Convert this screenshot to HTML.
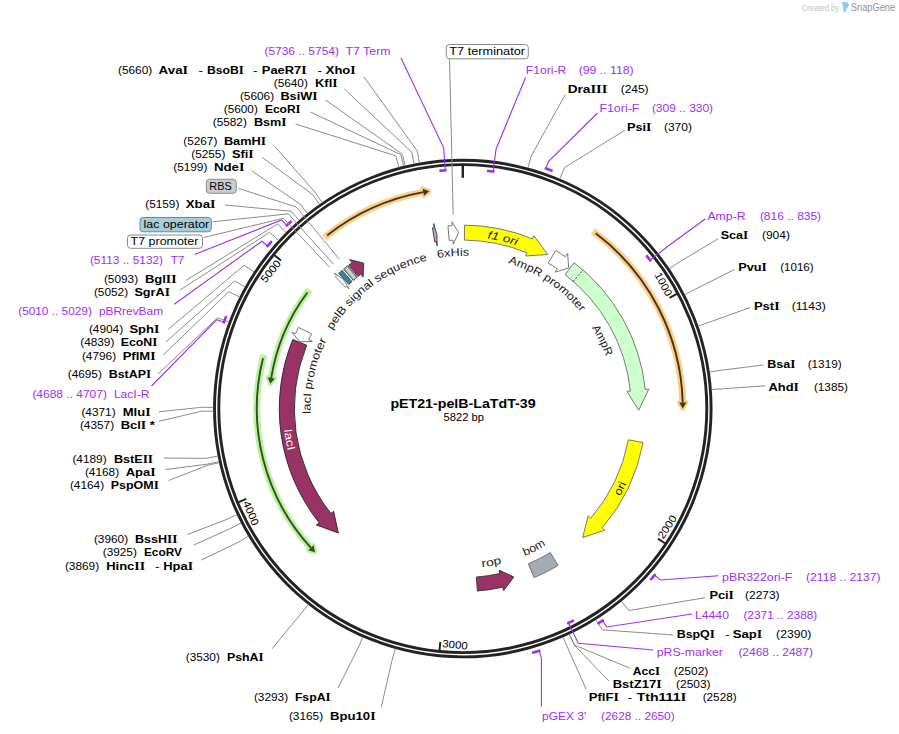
<!DOCTYPE html>
<html><head><meta charset="utf-8"><title>pET21-pelB-LaTdT-39</title>
<style>
html,body{margin:0;padding:0;background:#fff;}
body{width:899px;height:734px;overflow:hidden;}
svg{display:block;font-family:"Liberation Sans", sans-serif;}
</style></head><body>
<svg width="899" height="734" viewBox="0 0 899 734">
<circle cx="462.8" cy="408.6" r="248.3" fill="none" stroke="#232323" stroke-width="2.9"/>
<circle cx="462.8" cy="408.6" r="244.0" fill="none" stroke="#232323" stroke-width="2.9"/>
<line x1="462.8" y1="165.8" x2="462.8" y2="177.8" stroke="#232323" stroke-width="2.4"/>
<line x1="676.85" y1="293.99" x2="669.53" y2="297.91" stroke="#232323" stroke-width="2.0"/>
<g transform="translate(462.8,408.6) rotate(61.83)"><text x="-2.2" y="-232.0" font-size="10.6" text-anchor="end" textLength="25.5" lengthAdjust="spacingAndGlyphs">1000</text></g>
<line x1="664.87" y1="543.21" x2="657.96" y2="538.6" stroke="#232323" stroke-width="2.0"/>
<g transform="translate(462.8,408.6) rotate(303.67)"><text x="2.2" y="239.4" font-size="10.6" textLength="25.5" lengthAdjust="spacingAndGlyphs">2000</text></g>
<line x1="439.51" y1="650.28" x2="440.31" y2="642.02" stroke="#232323" stroke-width="2.0"/>
<g transform="translate(462.8,408.6) rotate(365.5)"><text x="2.2" y="239.4" font-size="10.6" textLength="25.5" lengthAdjust="spacingAndGlyphs">3000</text></g>
<line x1="238.75" y1="502.15" x2="246.41" y2="498.95" stroke="#232323" stroke-width="2.0"/>
<g transform="translate(462.8,408.6) rotate(427.34)"><text x="2.2" y="239.4" font-size="10.6" textLength="25.5" lengthAdjust="spacingAndGlyphs">4000</text></g>
<line x1="274.57" y1="255.23" x2="281" y2="260.48" stroke="#232323" stroke-width="2.0"/>
<g transform="translate(462.8,408.6) rotate(309.17)"><text x="-2.2" y="-232.0" font-size="10.6" text-anchor="end" textLength="25.5" lengthAdjust="spacingAndGlyphs">5000</text></g>
<path d="M327.08,235.45 A220,220 0 0 1 423.3,192.17" fill="none" stroke="#fdcf86" stroke-width="7" stroke-linecap="square"/>
<path d="M429.22,191.18 L422.65,188.63 L423.95,195.72 Z" fill="#fdcf86" stroke="#fdcf86" stroke-width="4.5" stroke-linejoin="round"/>
<path d="M327.08,235.45 A220,220 0 0 1 423.3,192.17" fill="none" stroke="#3f3522" stroke-width="1.9"/>
<path d="M429.22,191.18 L422.65,188.63 L423.95,195.72 Z" fill="#3f3522"/>
<path d="M595.7,233.28 A220,220 0 0 1 682.71,402.48" fill="none" stroke="#fdcf86" stroke-width="7" stroke-linecap="square"/>
<path d="M682.8,408.48 L686.31,402.38 L679.12,402.58 Z" fill="#fdcf86" stroke="#fdcf86" stroke-width="4.5" stroke-linejoin="round"/>
<path d="M595.7,233.28 A220,220 0 0 1 682.71,402.48" fill="none" stroke="#3f3522" stroke-width="1.9"/>
<path d="M682.8,408.48 L686.31,402.38 L679.12,402.58 Z" fill="#3f3522"/>
<path d="M307.38,292.5 A194,194 0 0 0 271.24,377.92" fill="none" stroke="#b8f49a" stroke-width="7" stroke-linecap="square"/>
<path d="M270.38,383.86 L267.69,377.35 L274.8,378.49 Z" fill="#b8f49a" stroke="#b8f49a" stroke-width="4.5" stroke-linejoin="round"/>
<path d="M307.38,292.5 A194,194 0 0 0 271.24,377.92" fill="none" stroke="#3a4a30" stroke-width="1.9"/>
<path d="M270.38,383.86 L267.69,377.35 L274.8,378.49 Z" fill="#3a4a30"/>
<path d="M263.03,358.31 A206,206 0 0 0 310.95,547.8" fill="none" stroke="#b8f49a" stroke-width="7" stroke-linecap="square"/>
<path d="M315.07,552.17 L308.3,550.24 L313.6,545.37 Z" fill="#b8f49a" stroke="#b8f49a" stroke-width="4.5" stroke-linejoin="round"/>
<path d="M263.03,358.31 A206,206 0 0 0 310.95,547.8" fill="none" stroke="#3a4a30" stroke-width="1.9"/>
<path d="M315.07,552.17 L308.3,550.24 L313.6,545.37 Z" fill="#3a4a30"/>
<path d="M464.58,225.11 A183.5,183.5 0 0 1 532.63,238.9 L533.96,235.67 L547.79,254.48 L525.59,256.01 L526.92,252.78 A168.5,168.5 0 0 0 464.44,240.11 Z" fill="#ffff00" stroke="#6b6b6b" stroke-width="0.9" stroke-linejoin="miter"/>
<path d="M555.62,250.54 A183.3,183.3 0 0 1 565.42,256.72 L567.66,253.41 L568.66,268 L555.01,272.13 L557.25,268.82 A168.7,168.7 0 0 0 548.23,263.13 Z" fill="#ffffff" stroke="#6b6b6b" stroke-width="0.9" stroke-linejoin="miter"/>
<path d="M574.12,262.72 A183.5,183.5 0 0 1 645.3,389.47 L648.78,389.1 L638.79,410.21 L626.9,391.39 L630.38,391.03 A168.5,168.5 0 0 0 565.02,274.65 Z" fill="#ccffcc" stroke="#6b6b6b" stroke-width="0.9" stroke-linejoin="miter"/>
<path d="M643.13,442.56 A183.5,183.5 0 0 1 602.18,527.96 L604.83,530.24 L582.64,537.5 L588.12,515.93 L590.78,518.2 A168.5,168.5 0 0 0 628.39,439.79 Z" fill="#ffff00" stroke="#6b6b6b" stroke-width="0.9" stroke-linejoin="miter"/>
<path d="M558.1,565.41 A183.5,183.5 0 0 1 534.14,577.66 L528.31,563.84 A168.5,168.5 0 0 0 550.31,552.59 Z" fill="#a5abb3" stroke="#6b6b6b" stroke-width="0.9" stroke-linejoin="miter"/>
<path d="M513.91,577.02 L503.64,590.57 L502.87,587.16 A183,183 0 0 1 477.4,591.02 L476.28,577.06 A169,169 0 0 0 499.81,573.5 L499.04,570.08 Z" fill="#993366" stroke="#333" stroke-width="0.9" stroke-linejoin="miter"/>
<path d="M338.32,533.02 L316.4,524.94 L319.14,522.77 A183.5,183.5 0 0 1 292.79,339.55 L306.69,345.19 A168.5,168.5 0 0 0 330.88,513.43 L333.62,511.26 Z" fill="#993366" stroke="#222" stroke-width="0.9" stroke-linejoin="miter"/>
<path d="M299.95,341.84 L291.8,332.17 L295.45,333.81 A183.3,183.3 0 0 1 298.49,327.35 L311.58,333.83 A168.7,168.7 0 0 0 308.78,339.76 L312.43,341.4 Z" fill="#ffffff" stroke="#6b6b6b" stroke-width="0.9" stroke-linejoin="miter"/>
<path d="M335.41,276.8 A183.3,183.3 0 0 1 336.53,275.73 L333.98,273.05 L343.38,279.31 L349.13,289 L346.59,286.31 A168.7,168.7 0 0 0 345.56,287.3 Z" fill="#ffffff" stroke="#6b6b6b" stroke-width="0.9" stroke-linejoin="miter"/>
<path d="M338.73,273.4 A183.5,183.5 0 0 1 342.12,270.36 L351.99,281.66 A168.5,168.5 0 0 0 348.87,284.45 Z" fill="#33869b" stroke="#444" stroke-width="0.9" stroke-linejoin="miter"/>
<path d="M343.62,269.07 A183.5,183.5 0 0 1 347.74,265.66 L357.14,277.34 A168.5,168.5 0 0 0 353.36,280.47 Z" fill="#a5abb3" stroke="#444" stroke-width="0.9" stroke-linejoin="miter"/>
<path d="M348.79,265.07 A183.3,183.3 0 0 1 352.01,262.57 L349.78,259.62 L363.73,263.13 L363.07,277.15 L360.84,274.2 A168.7,168.7 0 0 0 357.87,276.5 Z" fill="#993366" stroke="#333" stroke-width="0.9" stroke-linejoin="miter"/>
<path d="M432.48,227.83 A183.3,183.3 0 0 1 434.25,227.54 L433.63,223.59 L436.87,234.52 L437.15,245.91 L436.53,241.96 A168.7,168.7 0 0 0 434.89,242.22 Z" fill="#d99cc4" stroke="#333" stroke-width="0.9" stroke-linejoin="miter"/>
<path d="M447.98,225.9 A183.3,183.3 0 0 1 452.21,225.61 L451.97,221.61 L458.62,232.65 L453.28,244.18 L453.05,240.18 A168.7,168.7 0 0 0 449.16,240.45 Z" fill="#ffffff" stroke="#6b6b6b" stroke-width="0.9" stroke-linejoin="miter"/>
<line x1="354.11" y1="278.53" x2="345.78" y2="268.56" stroke="#f4f4f4" stroke-width="0.8"/>
<line x1="355.1" y1="277.72" x2="346.84" y2="267.68" stroke="#f4f4f4" stroke-width="0.8"/>
<line x1="573.2" y1="281.3" x2="583.03" y2="269.97" stroke="#333" stroke-width="0.9" stroke-dasharray="2,1.6"/>
<polyline points="363.6,76.4 417.31,151.09 419.4,162.9" fill="none" stroke="#8c8c8c" stroke-width="1.0"/>
<polyline points="344.4,89 411.77,152.13 414.11,163.9" fill="none" stroke="#8c8c8c" stroke-width="1.0"/>
<polyline points="325.6,100 402.39,154.17 405.16,165.85" fill="none" stroke="#8c8c8c" stroke-width="1.0"/>
<polyline points="310.4,112 400.75,154.57 403.59,166.23" fill="none" stroke="#8c8c8c" stroke-width="1.0"/>
<polyline points="295.6,124 395.82,155.82 398.9,167.42" fill="none" stroke="#8c8c8c" stroke-width="1.0"/>
<polyline points="275,146.7 315.37,192.62 322.14,202.53" fill="none" stroke="#8c8c8c" stroke-width="1.0"/>
<polyline points="262.5,157.5 312.59,194.55 319.48,204.37" fill="none" stroke="#8c8c8c" stroke-width="1.0"/>
<polyline points="251.7,170.8 299.93,204.01 307.4,213.4" fill="none" stroke="#8c8c8c" stroke-width="1.0"/>
<polyline points="225,205 291.25,211.23 299.13,220.29" fill="none" stroke="#8c8c8c" stroke-width="1.0"/>
<polyline points="185.8,280.5 277.64,223.94 286.14,232.42" fill="none" stroke="#8c8c8c" stroke-width="1.0"/>
<polyline points="180,290 269.66,232.31 278.52,240.4" fill="none" stroke="#8c8c8c" stroke-width="1.0"/>
<polyline points="168.3,329.3 244.08,265.27 254.11,271.85" fill="none" stroke="#8c8c8c" stroke-width="1.0"/>
<polyline points="165.8,342 234.57,280.96 245.04,286.82" fill="none" stroke="#8c8c8c" stroke-width="1.0"/>
<polyline points="163.3,355 228.89,291.68 239.63,297.05" fill="none" stroke="#8c8c8c" stroke-width="1.0"/>
<polyline points="158,374 217.56,317.82 228.82,321.99" fill="none" stroke="#8c8c8c" stroke-width="1.0"/>
<polyline points="158.8,411.8 201.3,407.33 213.3,407.39" fill="none" stroke="#8c8c8c" stroke-width="1.0"/>
<polyline points="158.8,421.3 201.31,411.28 213.31,411.16" fill="none" stroke="#8c8c8c" stroke-width="1.0"/>
<polyline points="163.8,458 206.08,458.39 217.86,456.1" fill="none" stroke="#8c8c8c" stroke-width="1.0"/>
<polyline points="165.5,469.5 207.28,464.19 219,461.64" fill="none" stroke="#8c8c8c" stroke-width="1.0"/>
<polyline points="168.8,480.5 207.52,465.29 219.23,462.69" fill="none" stroke="#8c8c8c" stroke-width="1.0"/>
<polyline points="187.5,534.5 226.06,519.68 236.93,514.58" fill="none" stroke="#8c8c8c" stroke-width="1.0"/>
<polyline points="193.8,545 230.43,528.54 241.09,523.03" fill="none" stroke="#8c8c8c" stroke-width="1.0"/>
<polyline points="201.3,560 238.09,542.35 248.41,536.21" fill="none" stroke="#8c8c8c" stroke-width="1.0"/>
<polyline points="272,648.8 300.82,613.89 308.25,604.47" fill="none" stroke="#8c8c8c" stroke-width="1.0"/>
<polyline points="338,688 358.02,648.19 362.83,637.2" fill="none" stroke="#8c8c8c" stroke-width="1.0"/>
<polyline points="381.3,707 392.01,660.34 395.26,648.78" fill="none" stroke="#8c8c8c" stroke-width="1.0"/>
<polyline points="565,95 531.14,156.19 528,167.77" fill="none" stroke="#8c8c8c" stroke-width="1.0"/>
<polyline points="624.5,130.5 564.47,167.67 559.8,178.73" fill="none" stroke="#8c8c8c" stroke-width="1.0"/>
<polyline points="718,238.8 679.33,261.99 669.4,268.71" fill="none" stroke="#8c8c8c" stroke-width="1.0"/>
<polyline points="734.5,269.5 695.43,289.17 684.76,294.65" fill="none" stroke="#8c8c8c" stroke-width="1.0"/>
<polyline points="750.3,307.5 709.57,322.07 698.24,326.04" fill="none" stroke="#8c8c8c" stroke-width="1.0"/>
<polyline points="763.3,365 721.47,370.22 709.6,371.98" fill="none" stroke="#8c8c8c" stroke-width="1.0"/>
<polyline points="765.3,385.8 723.54,388.72 711.58,389.64" fill="none" stroke="#8c8c8c" stroke-width="1.0"/>
<polyline points="705,597.7 628.96,610.52 621.33,601.26" fill="none" stroke="#8c8c8c" stroke-width="1.0"/>
<polyline points="673,635 602.21,629.84 595.81,619.69" fill="none" stroke="#8c8c8c" stroke-width="1.0"/>
<polyline points="630,668.3 574.51,645.04 569.39,634.19" fill="none" stroke="#8c8c8c" stroke-width="1.0"/>
<polyline points="609,681 574.26,645.16 569.14,634.3" fill="none" stroke="#8c8c8c" stroke-width="1.0"/>
<polyline points="586,689 567.84,648.08 563.02,637.09" fill="none" stroke="#8c8c8c" stroke-width="1.0"/>
<polyline points="401,58 443.63,147.8 445.28,170.24" fill="none" stroke="#9b30f0" stroke-width="1.1"/>
<path d="M440.65,170.63 A239,239 0 0 1 445.28,170.24" fill="none" stroke="#9b30f0" stroke-width="2.6" stroke-linecap="square"/>
<polyline points="194.5,254.5 281.67,219.99 286.87,225.4" fill="none" stroke="#9b30f0" stroke-width="1.1"/>
<path d="M286.87,225.4 A254,254 0 0 1 290.66,221.83" fill="none" stroke="#9b30f0" stroke-width="2.6" stroke-linecap="square"/>
<polyline points="174.2,304.2 261.87,241.24 267.63,246.04" fill="none" stroke="#9b30f0" stroke-width="1.1"/>
<path d="M267.63,246.04 A254,254 0 0 1 271,242.08" fill="none" stroke="#9b30f0" stroke-width="2.6" stroke-linecap="square"/>
<polyline points="151.5,386 216.88,319.68 223.94,322.23" fill="none" stroke="#9b30f0" stroke-width="1.1"/>
<path d="M223.94,322.23 A254,254 0 0 1 225.76,317.35" fill="none" stroke="#9b30f0" stroke-width="2.6" stroke-linecap="square"/>
<polyline points="525.5,77.5 496.01,149.22 493.15,171.54" fill="none" stroke="#9b30f0" stroke-width="1.1"/>
<path d="M488.29,170.96 A239,239 0 0 1 493.15,171.54" fill="none" stroke="#9b30f0" stroke-width="2.6" stroke-linecap="square"/>
<polyline points="597.5,113 548.4,161.51 545.94,168.59" fill="none" stroke="#9b30f0" stroke-width="1.1"/>
<path d="M545.94,168.59 A254,254 0 0 1 551.36,170.54" fill="none" stroke="#9b30f0" stroke-width="2.6" stroke-linecap="square"/>
<polyline points="705.5,218.8 667.83,246.28 650.18,260.25" fill="none" stroke="#9b30f0" stroke-width="1.1"/>
<path d="M647.1,256.44 A239,239 0 0 1 650.18,260.25" fill="none" stroke="#9b30f0" stroke-width="2.6" stroke-linecap="square"/>
<polyline points="718.3,575.7 660.26,580.04 654.6,575.12" fill="none" stroke="#9b30f0" stroke-width="1.1"/>
<path d="M654.6,575.12 A254,254 0 0 1 651.14,579.02" fill="none" stroke="#9b30f0" stroke-width="2.6" stroke-linecap="square"/>
<polyline points="692,614 606.71,626.94 602.59,620.67" fill="none" stroke="#9b30f0" stroke-width="1.1"/>
<path d="M602.59,620.67 A254,254 0 0 1 598.67,623.2" fill="none" stroke="#9b30f0" stroke-width="2.6" stroke-linecap="square"/>
<polyline points="653.3,650 578.33,643.2 568.39,623.01" fill="none" stroke="#9b30f0" stroke-width="1.1"/>
<path d="M572.76,620.8 A239,239 0 0 1 568.39,623.01" fill="none" stroke="#9b30f0" stroke-width="2.6" stroke-linecap="square"/>
<polyline points="541.4,706.7 541.4,658 539.18,650.85" fill="none" stroke="#9b30f0" stroke-width="1.1"/>
<path d="M539.18,650.85 A254,254 0 0 1 533.4,652.59" fill="none" stroke="#9b30f0" stroke-width="2.6" stroke-linecap="square"/>
<text x="118" y="74" font-size="11" textLength="34.2" lengthAdjust="spacingAndGlyphs">(5660)</text>
<text x="158.6" y="74" font-size="11" font-weight="bold" textLength="29.5" lengthAdjust="spacingAndGlyphs">Ava<tspan font-family="Liberation Serif" font-size="11.66">I</tspan></text>
<text x="198.5" y="74" font-size="11" textLength="4.5" lengthAdjust="spacingAndGlyphs">-</text>
<text x="206.9" y="74" font-size="11" font-weight="bold" textLength="37" lengthAdjust="spacingAndGlyphs">BsoB<tspan font-family="Liberation Serif" font-size="11.66">I</tspan></text>
<text x="253.1" y="74" font-size="11" textLength="4.4" lengthAdjust="spacingAndGlyphs">-</text>
<text x="261.8" y="74" font-size="11" font-weight="bold" textLength="44.8" lengthAdjust="spacingAndGlyphs">PaeR7<tspan font-family="Liberation Serif" font-size="11.66">I</tspan></text>
<text x="317.5" y="74" font-size="11" textLength="4.5" lengthAdjust="spacingAndGlyphs">-</text>
<text x="325.8" y="74" font-size="11" font-weight="bold" textLength="29.8" lengthAdjust="spacingAndGlyphs">Xho<tspan font-family="Liberation Serif" font-size="11.66">I</tspan></text>
<text x="273.7" y="87" font-size="11" textLength="34.2" lengthAdjust="spacingAndGlyphs">(5640)</text>
<text x="315" y="87" font-size="11" font-weight="bold" textLength="22.6" lengthAdjust="spacingAndGlyphs">Kfl<tspan font-family="Liberation Serif" font-size="11.66">I</tspan></text>
<text x="239.9" y="100" font-size="11" textLength="34.2" lengthAdjust="spacingAndGlyphs">(5606)</text>
<text x="280.4" y="100" font-size="11" font-weight="bold" textLength="37.2" lengthAdjust="spacingAndGlyphs">BsiW<tspan font-family="Liberation Serif" font-size="11.66">I</tspan></text>
<text x="223.7" y="113" font-size="11" textLength="34.2" lengthAdjust="spacingAndGlyphs">(5600)</text>
<text x="264.9" y="113" font-size="11" font-weight="bold" textLength="35.7" lengthAdjust="spacingAndGlyphs">EcoR<tspan font-family="Liberation Serif" font-size="11.66">I</tspan></text>
<text x="212.7" y="126" font-size="11" textLength="34.2" lengthAdjust="spacingAndGlyphs">(5582)</text>
<text x="253.9" y="126" font-size="11" font-weight="bold" textLength="32.7" lengthAdjust="spacingAndGlyphs">Bsm<tspan font-family="Liberation Serif" font-size="11.66">I</tspan></text>
<text x="183.2" y="144.5" font-size="11" textLength="34.2" lengthAdjust="spacingAndGlyphs">(5267)</text>
<text x="223.9" y="144.5" font-size="11" font-weight="bold" textLength="42.2" lengthAdjust="spacingAndGlyphs">BamH<tspan font-family="Liberation Serif" font-size="11.66">I</tspan></text>
<text x="191.2" y="157.5" font-size="11" textLength="34.2" lengthAdjust="spacingAndGlyphs">(5255)</text>
<text x="231.9" y="157.5" font-size="11" font-weight="bold" textLength="21.7" lengthAdjust="spacingAndGlyphs">Sfi<tspan font-family="Liberation Serif" font-size="11.66">I</tspan></text>
<text x="173.2" y="170.8" font-size="11" textLength="34.2" lengthAdjust="spacingAndGlyphs">(5199)</text>
<text x="213.9" y="170.8" font-size="11" font-weight="bold" textLength="30.5" lengthAdjust="spacingAndGlyphs">Nde<tspan font-family="Liberation Serif" font-size="11.66">I</tspan></text>
<text x="145.2" y="208.3" font-size="11" textLength="34.2" lengthAdjust="spacingAndGlyphs">(5159)</text>
<text x="185.7" y="208.3" font-size="11" font-weight="bold" textLength="29.9" lengthAdjust="spacingAndGlyphs">Xba<tspan font-family="Liberation Serif" font-size="11.66">I</tspan></text>
<text x="103.9" y="282.5" font-size="11" textLength="34.2" lengthAdjust="spacingAndGlyphs">(5093)</text>
<text x="144.9" y="282.5" font-size="11" font-weight="bold" textLength="31.7" lengthAdjust="spacingAndGlyphs">Bgl<tspan font-family="Liberation Serif" font-size="11.66">I</tspan><tspan font-family="Liberation Serif" font-size="11.66">I</tspan></text>
<text x="93.9" y="295.8" font-size="11" textLength="34.2" lengthAdjust="spacingAndGlyphs">(5052)</text>
<text x="134.4" y="295.8" font-size="11" font-weight="bold" textLength="35.5" lengthAdjust="spacingAndGlyphs">SgrA<tspan font-family="Liberation Serif" font-size="11.66">I</tspan></text>
<text x="88.9" y="333.3" font-size="11" textLength="34.2" lengthAdjust="spacingAndGlyphs">(4904)</text>
<text x="129.4" y="333.3" font-size="11" font-weight="bold" textLength="30" lengthAdjust="spacingAndGlyphs">Sph<tspan font-family="Liberation Serif" font-size="11.66">I</tspan></text>
<text x="80.2" y="346.3" font-size="11" textLength="34.2" lengthAdjust="spacingAndGlyphs">(4839)</text>
<text x="120.7" y="346.3" font-size="11" font-weight="bold" textLength="36.7" lengthAdjust="spacingAndGlyphs">EcoN<tspan font-family="Liberation Serif" font-size="11.66">I</tspan></text>
<text x="81.9" y="359.5" font-size="11" textLength="34.2" lengthAdjust="spacingAndGlyphs">(4796)</text>
<text x="122.7" y="359.5" font-size="11" font-weight="bold" textLength="32.9" lengthAdjust="spacingAndGlyphs">PflM<tspan font-family="Liberation Serif" font-size="11.66">I</tspan></text>
<text x="67.7" y="378.3" font-size="11" textLength="34.2" lengthAdjust="spacingAndGlyphs">(4695)</text>
<text x="108.7" y="378.3" font-size="11" font-weight="bold" textLength="42.4" lengthAdjust="spacingAndGlyphs">BstAP<tspan font-family="Liberation Serif" font-size="11.66">I</tspan></text>
<text x="81.4" y="415.8" font-size="11" textLength="34.2" lengthAdjust="spacingAndGlyphs">(4371)</text>
<text x="122.7" y="415.8" font-size="11" font-weight="bold" textLength="27.9" lengthAdjust="spacingAndGlyphs">Mlu<tspan font-family="Liberation Serif" font-size="11.66">I</tspan></text>
<text x="79.9" y="428.8" font-size="11" textLength="34.2" lengthAdjust="spacingAndGlyphs">(4357)</text>
<text x="120.7" y="428.8" font-size="11" font-weight="bold" textLength="34.2" lengthAdjust="spacingAndGlyphs">Bcl<tspan font-family="Liberation Serif" font-size="11.66">I</tspan> *</text>
<text x="72.4" y="462.5" font-size="11" textLength="34.2" lengthAdjust="spacingAndGlyphs">(4189)</text>
<text x="113.9" y="462.5" font-size="11" font-weight="bold" textLength="39.2" lengthAdjust="spacingAndGlyphs">BstE<tspan font-family="Liberation Serif" font-size="11.66">I</tspan><tspan font-family="Liberation Serif" font-size="11.66">I</tspan></text>
<text x="84.9" y="475.5" font-size="11" textLength="34.2" lengthAdjust="spacingAndGlyphs">(4168)</text>
<text x="125.7" y="475.5" font-size="11" font-weight="bold" textLength="29.9" lengthAdjust="spacingAndGlyphs">Apa<tspan font-family="Liberation Serif" font-size="11.66">I</tspan></text>
<text x="69.9" y="488.8" font-size="11" textLength="34.2" lengthAdjust="spacingAndGlyphs">(4164)</text>
<text x="110.7" y="488.8" font-size="11" font-weight="bold" textLength="48.2" lengthAdjust="spacingAndGlyphs">PspOM<tspan font-family="Liberation Serif" font-size="11.66">I</tspan></text>
<text x="93.9" y="542.5" font-size="11" textLength="34.2" lengthAdjust="spacingAndGlyphs">(3960)</text>
<text x="134.9" y="542.5" font-size="11" font-weight="bold" textLength="42.5" lengthAdjust="spacingAndGlyphs">BssH<tspan font-family="Liberation Serif" font-size="11.66">I</tspan><tspan font-family="Liberation Serif" font-size="11.66">I</tspan></text>
<text x="102.7" y="555.8" font-size="11" textLength="34.2" lengthAdjust="spacingAndGlyphs">(3925)</text>
<text x="143.9" y="555.8" font-size="11" font-weight="bold" textLength="38" lengthAdjust="spacingAndGlyphs">EcoRV</text>
<text x="64.9" y="570" font-size="11" textLength="34.2" lengthAdjust="spacingAndGlyphs">(3869)</text>
<text x="106.2" y="570" font-size="11" font-weight="bold" textLength="38.9" lengthAdjust="spacingAndGlyphs">Hinc<tspan font-family="Liberation Serif" font-size="11.66">I</tspan><tspan font-family="Liberation Serif" font-size="11.66">I</tspan></text>
<text x="155" y="570" font-size="11" textLength="4.5" lengthAdjust="spacingAndGlyphs">-</text>
<text x="163.2" y="570" font-size="11" font-weight="bold" textLength="29.9" lengthAdjust="spacingAndGlyphs">Hpa<tspan font-family="Liberation Serif" font-size="11.66">I</tspan></text>
<text x="185.7" y="660.8" font-size="11" textLength="34.2" lengthAdjust="spacingAndGlyphs">(3530)</text>
<text x="226.9" y="660.8" font-size="11" font-weight="bold" textLength="36.7" lengthAdjust="spacingAndGlyphs">PshA<tspan font-family="Liberation Serif" font-size="11.66">I</tspan></text>
<text x="253.9" y="701.3" font-size="11" textLength="34.2" lengthAdjust="spacingAndGlyphs">(3293)</text>
<text x="294.9" y="701.3" font-size="11" font-weight="bold" textLength="35.7" lengthAdjust="spacingAndGlyphs">FspA<tspan font-family="Liberation Serif" font-size="11.66">I</tspan></text>
<text x="288.9" y="720" font-size="11" textLength="34.2" lengthAdjust="spacingAndGlyphs">(3165)</text>
<text x="329.9" y="720" font-size="11" font-weight="bold" textLength="45.7" lengthAdjust="spacingAndGlyphs">Bpu10<tspan font-family="Liberation Serif" font-size="11.66">I</tspan></text>
<text x="567.7" y="93" font-size="11" font-weight="bold" textLength="39.7" lengthAdjust="spacingAndGlyphs">Dra<tspan font-family="Liberation Serif" font-size="11.66">I</tspan><tspan font-family="Liberation Serif" font-size="11.66">I</tspan><tspan font-family="Liberation Serif" font-size="11.66">I</tspan></text>
<text x="620.7" y="93" font-size="11" textLength="27.9" lengthAdjust="spacingAndGlyphs">(245)</text>
<text x="626.9" y="130.8" font-size="11" font-weight="bold" textLength="24.5" lengthAdjust="spacingAndGlyphs">Psi<tspan font-family="Liberation Serif" font-size="11.66">I</tspan></text>
<text x="663.9" y="130.8" font-size="11" textLength="28" lengthAdjust="spacingAndGlyphs">(370)</text>
<text x="720.7" y="239.3" font-size="11" font-weight="bold" textLength="27.4" lengthAdjust="spacingAndGlyphs">Sca<tspan font-family="Liberation Serif" font-size="11.66">I</tspan></text>
<text x="761.9" y="239.3" font-size="11" textLength="28" lengthAdjust="spacingAndGlyphs">(904)</text>
<text x="738.2" y="271.3" font-size="11" font-weight="bold" textLength="28.7" lengthAdjust="spacingAndGlyphs">Pvu<tspan font-family="Liberation Serif" font-size="11.66">I</tspan></text>
<text x="780.2" y="271.3" font-size="11" textLength="33.4" lengthAdjust="spacingAndGlyphs">(1016)</text>
<text x="753.9" y="310" font-size="11" font-weight="bold" textLength="25.7" lengthAdjust="spacingAndGlyphs">Pst<tspan font-family="Liberation Serif" font-size="11.66">I</tspan></text>
<text x="791.7" y="310" font-size="11" textLength="34.2" lengthAdjust="spacingAndGlyphs">(1143)</text>
<text x="767.2" y="368" font-size="11" font-weight="bold" textLength="28.2" lengthAdjust="spacingAndGlyphs">Bsa<tspan font-family="Liberation Serif" font-size="11.66">I</tspan></text>
<text x="807.7" y="368" font-size="11" textLength="33.9" lengthAdjust="spacingAndGlyphs">(1319)</text>
<text x="768.4" y="390.8" font-size="11" font-weight="bold" textLength="30.5" lengthAdjust="spacingAndGlyphs">Ahd<tspan font-family="Liberation Serif" font-size="11.66">I</tspan></text>
<text x="813.9" y="390.8" font-size="11" textLength="34" lengthAdjust="spacingAndGlyphs">(1385)</text>
<text x="709.4" y="599.3" font-size="11" font-weight="bold" textLength="24.5" lengthAdjust="spacingAndGlyphs">Pci<tspan font-family="Liberation Serif" font-size="11.66">I</tspan></text>
<text x="745.1" y="599.3" font-size="11" textLength="34.5" lengthAdjust="spacingAndGlyphs">(2273)</text>
<text x="676.7" y="637.7" font-size="11" font-weight="bold" textLength="38.2" lengthAdjust="spacingAndGlyphs">BspQ<tspan font-family="Liberation Serif" font-size="11.66">I</tspan></text>
<text x="725.2" y="637.7" font-size="11" textLength="4.3" lengthAdjust="spacingAndGlyphs">-</text>
<text x="732.7" y="637.7" font-size="11" font-weight="bold" textLength="29.6" lengthAdjust="spacingAndGlyphs">Sap<tspan font-family="Liberation Serif" font-size="11.66">I</tspan></text>
<text x="776.1" y="637.7" font-size="11" textLength="35.2" lengthAdjust="spacingAndGlyphs">(2390)</text>
<text x="632.7" y="675" font-size="11" font-weight="bold" textLength="27.2" lengthAdjust="spacingAndGlyphs">Acc<tspan font-family="Liberation Serif" font-size="11.66">I</tspan></text>
<text x="673.7" y="675" font-size="11" textLength="34.6" lengthAdjust="spacingAndGlyphs">(2502)</text>
<text x="612.7" y="688.3" font-size="11" font-weight="bold" textLength="48.9" lengthAdjust="spacingAndGlyphs">BstZ17<tspan font-family="Liberation Serif" font-size="11.66">I</tspan></text>
<text x="676.1" y="688.3" font-size="11" textLength="34.5" lengthAdjust="spacingAndGlyphs">(2503)</text>
<text x="588.7" y="701" font-size="11" font-weight="bold" textLength="30.2" lengthAdjust="spacingAndGlyphs">PflF<tspan font-family="Liberation Serif" font-size="11.66">I</tspan></text>
<text x="627.8" y="701" font-size="11" textLength="4.5" lengthAdjust="spacingAndGlyphs">-</text>
<text x="636.7" y="701" font-size="11" font-weight="bold" textLength="49.6" lengthAdjust="spacingAndGlyphs">Tth111<tspan font-family="Liberation Serif" font-size="11.66">I</tspan></text>
<text x="702.7" y="701" font-size="11" textLength="33.9" lengthAdjust="spacingAndGlyphs">(2528)</text>
<text x="264.4" y="55" font-size="11" fill="#9b30f0" textLength="74.6" lengthAdjust="spacingAndGlyphs">(5736 .. 5754)</text>
<text x="345.4" y="55" font-size="11" fill="#9b30f0" textLength="45.2" lengthAdjust="spacingAndGlyphs">T7 Term</text>
<text x="89.9" y="263.8" font-size="11" fill="#9b30f0" textLength="73.2" lengthAdjust="spacingAndGlyphs">(5113 .. 5132)</text>
<text x="170.7" y="263.8" font-size="11" fill="#9b30f0" textLength="13.7" lengthAdjust="spacingAndGlyphs">T7</text>
<text x="18.2" y="315" font-size="11" fill="#9b30f0" textLength="73.7" lengthAdjust="spacingAndGlyphs">(5010 .. 5029)</text>
<text x="98.9" y="315" font-size="11" fill="#9b30f0" textLength="64.2" lengthAdjust="spacingAndGlyphs">pBRrevBam</text>
<text x="32.4" y="397.5" font-size="11" fill="#9b30f0" textLength="74.5" lengthAdjust="spacingAndGlyphs">(4688 .. 4707)</text>
<text x="113.9" y="397.5" font-size="11" fill="#9b30f0" textLength="35.5" lengthAdjust="spacingAndGlyphs">LacI-R</text>
<text x="525.7" y="74.3" font-size="11" fill="#9b30f0" textLength="40.7" lengthAdjust="spacingAndGlyphs">F1ori-R</text>
<text x="578.7" y="74.3" font-size="11" fill="#9b30f0" textLength="54.9" lengthAdjust="spacingAndGlyphs">(99 .. 118)</text>
<text x="599.4" y="112" font-size="11" fill="#9b30f0" textLength="40" lengthAdjust="spacingAndGlyphs">F1ori-F</text>
<text x="651.9" y="112" font-size="11" fill="#9b30f0" textLength="61.2" lengthAdjust="spacingAndGlyphs">(309 .. 330)</text>
<text x="707.4" y="220" font-size="11" fill="#9b30f0" textLength="38.2" lengthAdjust="spacingAndGlyphs">Amp-R</text>
<text x="759.9" y="220" font-size="11" fill="#9b30f0" textLength="61.2" lengthAdjust="spacingAndGlyphs">(816 .. 835)</text>
<text x="722.1" y="580.7" font-size="11" fill="#9b30f0" textLength="70.2" lengthAdjust="spacingAndGlyphs">pBR322ori-F</text>
<text x="806.1" y="580.7" font-size="11" fill="#9b30f0" textLength="74.5" lengthAdjust="spacingAndGlyphs">(2118 .. 2137)</text>
<text x="695.1" y="619" font-size="11" fill="#9b30f0" textLength="33.8" lengthAdjust="spacingAndGlyphs">L4440</text>
<text x="743.4" y="619" font-size="11" fill="#9b30f0" textLength="73.9" lengthAdjust="spacingAndGlyphs">(2371 .. 2388)</text>
<text x="656.7" y="656" font-size="11" fill="#9b30f0" textLength="66.2" lengthAdjust="spacingAndGlyphs">pRS-marker</text>
<text x="738.4" y="656" font-size="11" fill="#9b30f0" textLength="74.5" lengthAdjust="spacingAndGlyphs">(2468 .. 2487)</text>
<text x="542.1" y="720" font-size="11" fill="#9b30f0" textLength="44.2" lengthAdjust="spacingAndGlyphs">pGEX 3'</text>
<text x="601.1" y="720" font-size="11" fill="#9b30f0" textLength="73.5" lengthAdjust="spacingAndGlyphs">(2628 .. 2650)</text>
<polyline points="449.5,58.8 453.2,214.5" fill="none" stroke="#8c8c8c" stroke-width="1.0"/>
<polyline points="238.3,188.3 296.2,207.04 339.21,259.06" fill="none" stroke="#8c8c8c" stroke-width="1.0"/>
<polyline points="212.5,221.8 288.29,213.85 333.34,264.12" fill="none" stroke="#8c8c8c" stroke-width="1.0"/>
<polyline points="203.8,237.5 283.51,218.24 329.79,267.38" fill="none" stroke="#8c8c8c" stroke-width="1.0"/>
<rect x="446.3" y="44.5" width="82" height="14.3" rx="3.2" ry="3.2" fill="#ffffff" stroke="#8a8a8a" stroke-width="1"/>
<text x="449.3" y="55" font-size="11" textLength="75.8" lengthAdjust="spacingAndGlyphs">T7 terminator</text>
<rect x="206.3" y="179.3" width="30" height="14" rx="3.2" ry="3.2" fill="#c9ccd1" stroke="#878b92" stroke-width="1"/>
<text x="209.3" y="189.5" font-size="11" textLength="22.4" lengthAdjust="spacingAndGlyphs">RBS</text>
<rect x="140" y="217.5" width="71.3" height="14.3" rx="3.2" ry="3.2" fill="#a7cdd8" stroke="#5f8d9c" stroke-width="1"/>
<text x="143.6" y="227.5" font-size="11" textLength="65.6" lengthAdjust="spacingAndGlyphs">lac operator</text>
<rect x="127.5" y="235" width="75" height="13.3" rx="3.2" ry="3.2" fill="#ffffff" stroke="#8a8a8a" stroke-width="1"/>
<text x="130.6" y="244.5" font-size="11" textLength="67.8" lengthAdjust="spacingAndGlyphs">T7 promoter</text>
<text x="390.4" y="408.1" font-size="12.4" font-weight="bold" textLength="145.2" lengthAdjust="spacingAndGlyphs">pET21-pelB-LaTdT-39</text>
<text x="443.5" y="420.9" font-size="10.6" textLength="40.4" lengthAdjust="spacingAndGlyphs">5822 bp</text>
<text x="801.6" y="10.6" font-size="8.2" fill="#c2c2c2" textLength="37.6" lengthAdjust="spacingAndGlyphs">Created by</text>
<path d="M842,1.8 L846,2 C849.6,2.4 849.8,7.2 846.6,8.2 L845.4,12.3 L843.8,12 Z" fill="#86cdf7"/>
<text x="850.8" y="11" font-size="10.2" fill="#8d949c" textLength="44.4" lengthAdjust="spacingAndGlyphs">SnapGene</text>
<path id="p233" d="M319.33,357.49 A152.3,152.3 0 0 1 457.19,256.4" fill="none"/>
<text font-size="11.2" fill="#1a1a1a"><textPath href="#p233" startOffset="50%" text-anchor="middle" textLength="121" lengthAdjust="spacingAndGlyphs">pelB signal sequence</textPath></text>
<path id="p235" d="M429.84,259.5 A152.7,152.7 0 0 1 476.81,256.54" fill="none"/>
<text font-size="11.2" fill="#1a1a1a"><textPath href="#p235" startOffset="50%" text-anchor="middle" textLength="31.5" lengthAdjust="spacingAndGlyphs">6xHis</textPath></text>
<path id="p237" d="M486.33,258.13 A152.3,152.3 0 0 1 593.5,330.41" fill="none"/>
<text font-size="11.2" fill="#1a1a1a"><textPath href="#p237" startOffset="50%" text-anchor="middle" textLength="89" lengthAdjust="spacingAndGlyphs">AmpR promoter</textPath></text>
<path id="p239" d="M587.42,321.04 A152.3,152.3 0 0 1 608.42,363.98" fill="none"/>
<text font-size="11.2" fill="#1a1a1a"><textPath href="#p239" startOffset="50%" text-anchor="middle" textLength="32" lengthAdjust="spacingAndGlyphs">AmpR</textPath></text>
<path id="p241" d="M312.39,432.54 A152.3,152.3 0 0 1 336.31,323.78" fill="none"/>
<text font-size="11.2" fill="#1a1a1a"><textPath href="#p241" startOffset="50%" text-anchor="middle" textLength="76" lengthAdjust="spacingAndGlyphs">lacI promoter</textPath></text>
<path id="p243" d="M519.1,558.15 A159.8,159.8 0 0 0 551.09,541.8" fill="none"/>
<text font-size="11.2" fill="#1a1a1a"><textPath href="#p243" startOffset="50%" text-anchor="middle" textLength="24" lengthAdjust="spacingAndGlyphs">bom</textPath></text>
<path id="p245" d="M477.1,567.76 A159.8,159.8 0 0 0 506.55,562.29" fill="none"/>
<text font-size="11.2" fill="#1a1a1a"><textPath href="#p245" startOffset="50%" text-anchor="middle" textLength="20" lengthAdjust="spacingAndGlyphs">rop</textPath></text>
<path id="p247" d="M479.95,237.66 A171.8,171.8 0 0 1 523.63,247.93" fill="none"/>
<text font-size="10.8" fill="#1a1a1a" font-style="italic"><textPath href="#p247" startOffset="50%" text-anchor="middle" textLength="30" lengthAdjust="spacingAndGlyphs">f1 ori</textPath></text>
<path id="p249" d="M618.26,499.34 A180,180 0 0 0 627.76,480.62" fill="none"/>
<text font-size="11.2" fill="#1a1a1a"><textPath href="#p249" startOffset="50%" text-anchor="middle" textLength="14" lengthAdjust="spacingAndGlyphs">ori</textPath></text>
<path id="p251" d="M283.5,424.5 A180,180 0 0 0 289.21,456.2" fill="none"/>
<text font-size="11.2" fill="#ffffff"><textPath href="#p251" startOffset="50%" text-anchor="middle" textLength="21.5" lengthAdjust="spacingAndGlyphs">lacI</textPath></text>
<!--LABELS-->
</svg>
</body></html>
